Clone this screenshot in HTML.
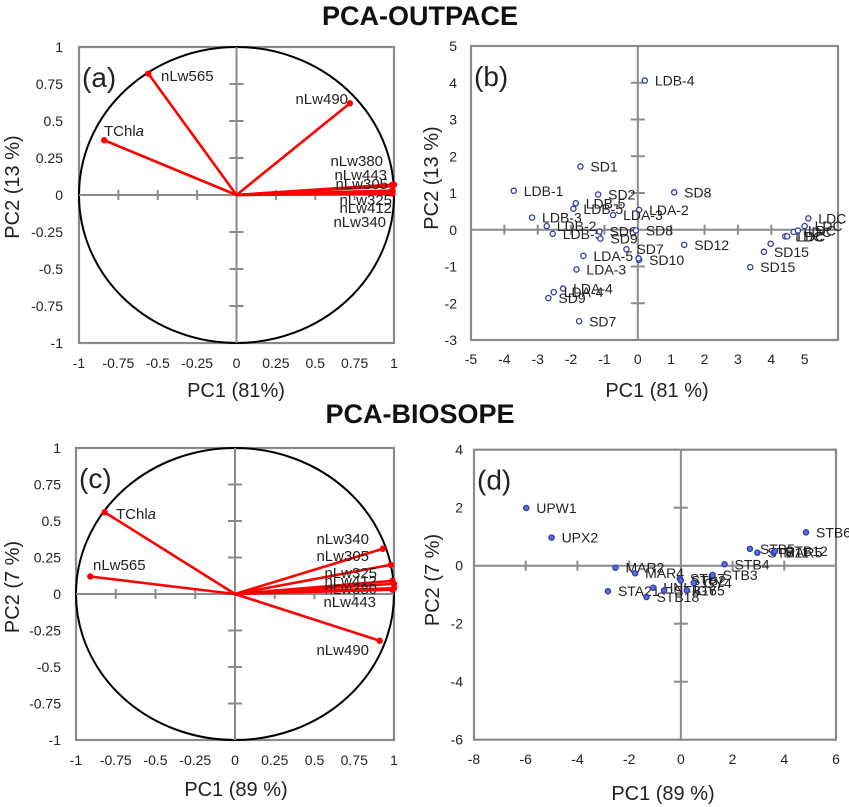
<!DOCTYPE html>
<html><head><meta charset="utf-8"><style>
body{margin:0;background:#fff}
svg{display:block;font-family:"Liberation Sans",sans-serif}
</style></head><body>
<svg id="fig" width="849" height="807" viewBox="0 0 849 807">
<text x="420" y="25" font-size="27" font-weight="bold" text-anchor="middle" fill="#111">PCA-OUTPACE</text>
<text x="420" y="423" font-size="27" font-weight="bold" text-anchor="middle" fill="#111">PCA-BIOSOPE</text>
</svg>
<script>
// Panel (a) loadings
const aVars = ["nLw565","nLw490","TChla","nLw380","nLw443","nLw305","nLw325","nLw412","nLw340"];
const aPC1 = [-0.56,0.72,-0.84,0.99,0.99,1.0,0.99,0.99,0.99];
const aPC2 = [0.82,0.62,0.37,0.07,0.06,0.07,0.03,0.02,0.01];
// Panel (c) loadings
const cVars = ["TChla","nLw565","nLw340","nLw305","nLw325","nLw412","nLw380","nLw443","nLw490"];
const cPC1 = [-0.82,-0.91,0.93,0.98,0.99,1.0,1.0,0.99,0.91];
const cPC2 = [0.56,0.12,0.31,0.2,0.09,0.07,0.04,0.03,-0.32];
const loadTicks = [-1,-0.75,-0.5,-0.25,0,0.25,0.5,0.75,1];
// Panel (b) scores
const bNames = ["LDB-4","SD1","LDB-1","SD2","SD8","LDB-5","LDB-5","LDA-2","LDA-3","LDB-3","LDB-2","LDB-5","SD6","SD8","SD9","SD7","LDA-5","SD10","","SD12","LDA-3","LDA-4","LDA-4","SD9","SD7","SD15","SD15","","LDC","LDC","LDC","LDC","LDC","LDC"];
const bPC1 = [0.21,-1.72,-3.72,-1.19,1.09,-1.86,-1.93,0.04,-0.74,-3.17,-2.73,-2.55,-1.15,-0.06,-1.12,-0.34,-1.63,0.04,0.02,1.39,-1.84,-2.24,-2.52,-2.68,-1.76,3.37,3.78,3.98,4.42,4.48,4.67,4.8,5.0,5.11];
const bPC2 = [4.06,1.72,1.06,0.96,1.02,0.72,0.57,0.54,0.40,0.33,0.10,-0.11,-0.05,-0.02,-0.24,-0.53,-0.71,-0.82,-0.78,-0.41,-1.08,-1.6,-1.70,-1.86,-2.49,-1.02,-0.6,-0.38,-0.18,-0.18,-0.06,-0.02,0.1,0.31];
const bXTicks = [-5,-4,-3,-2,-1,0,1,2,3,4,5];
const bYTicks = [5,4,3,2,1,0,-1,-2,-3];
// Panel (d) scores
const dNames = ["UPW1","UPX2","MAR2","MAR4","STA21","STB18","HNL1","STB16","STB7","STB2","GY5","GY4","STB3","STB4","STB5","STB11","MAR5","STB12","STB6"];
const dPC1 = [-5.98,-5.0,-2.53,-1.77,-2.82,-1.33,-1.07,-0.65,-0.04,0,0.23,0.5,1.23,1.69,2.67,2.96,3.58,3.64,4.84];
const dPC2 = [1.99,0.97,-0.07,-0.26,-0.88,-1.08,-0.76,-0.85,-0.44,-0.51,-0.85,-0.6,-0.32,0.05,0.58,0.45,0.45,0.5,1.15];
const dXTicks = [-8,-6,-4,-2,0,2,4,6];
const dYTicks = [4,2,0,-2,-4,-6];

const NS="http://www.w3.org/2000/svg";
const svg=document.getElementById('fig');
function mk(tag,attrs,parent,txt){const e=document.createElementNS(NS,tag);for(const k in attrs)e.setAttribute(k,attrs[k]);if(txt!==undefined)e.textContent=txt;(parent||svg).appendChild(e);return e;}

function panel(p){
  const g=mk('g',{});
  
  
  const sx=v=>p.x0+(v-p.xmin)/(p.xmax-p.xmin)*(p.x1-p.x0);
  const sy=v=>p.y1-(v-p.ymin)/(p.ymax-p.ymin)*(p.y1-p.y0);
  const box=mk('rect',{x:p.x0,y:p.y0,width:p.x1-p.x0,height:p.y1-p.y0,fill:'none',stroke:'#8a8a8a','stroke-width':2.2},g);
  
  
  if(p.circle){
    const c=mk('ellipse',{cx:sx(0),cy:sy(0),rx:sx(1)-sx(0),ry:sy(0)-sy(1),fill:'none',stroke:'#000','stroke-width':2},g);
    
    
  }
  const ax=mk('line',{x1:p.x0,x2:p.x1,y1:sy(0),y2:sy(0),stroke:'#8a8a8a','stroke-width':2},g);
  
  
  const ay=mk('line',{x1:sx(0),x2:sx(0),y1:p.y0,y2:p.y1,stroke:'#8a8a8a','stroke-width':2},g);
  
  
  p.xt.forEach(v=>{
    if(v>p.xmin&&v<p.xmax&&v!==0){
      const t=mk('line',{x1:sx(v),x2:sx(v),y1:sy(0)-5,y2:sy(0)+5,stroke:'#8a8a8a','stroke-width':2},g);
      
      
    }
    const l=mk('text',{x:sx(v),y:p.xly,'font-size':14,'text-anchor':'middle',fill:'#222'},g,p.fmt(v));
    
    
  });
  p.yt.forEach(v=>{
    if(v>p.ymin&&v<p.ymax&&v!==0){
      const t=mk('line',{x1:sx(0)-7,x2:sx(0)+7,y1:sy(v),y2:sy(v),stroke:'#8a8a8a','stroke-width':2},g);
      
      
    }
    const l=mk('text',{x:p.ylx,y:sy(v)+5,'font-size':14,'text-anchor':'end',fill:'#222'},g,String(v));
    
    
  });
  const xt=mk('text',{x:p.xtx,y:p.xty,'font-size':20,'text-anchor':'middle',fill:'#222'},g,p.xtitle);
  
  
  const yt=mk('text',{x:0,y:0,'font-size':20,'text-anchor':'middle',fill:'#222',transform:`translate(${p.ytx},${p.yty}) rotate(-90)`},g,p.ytitle);
  
  
  const pl=mk('text',{x:p.x0+3,y:p.y0+40,'font-size':28,fill:'#222'},g,p.letter);
  
  
  return {g,sx,sy};
}
const fmtL=v=>String(v).replace('0.','0.').replace('-0.','-0.');

function loadings(p,vars,xs,ys,labels){
  const {g,sx,sy}=panel(p);
  vars.forEach((n,i)=>{
    const ln=mk('line',{x1:sx(0),y1:sy(0),x2:sx(xs[i]),y2:sy(ys[i]),stroke:'#ff0000','stroke-width':2.6},g);
    
    
    const d=mk('circle',{cx:sx(xs[i]),cy:sy(ys[i]),r:3.2,fill:'#ff0000'},g);
    
    
    const L=labels[i];
    const t=mk('text',{x:L[0],y:L[1],'font-size':15,'text-anchor':L[2],fill:'#222'},g);
    
    
    if(n==='TChla'){t.textContent='TChl';const s=mk('tspan',{'font-style':'italic'},t,'a');}
    else t.textContent=n;
  });
}
loadings({name:'panel-a',x0:79,x1:394,y0:47,y1:343,xmin:-1,xmax:1,ymin:-1,ymax:1,xt:loadTicks,yt:loadTicks,fmt:String,xly:368,ylx:63,xtitle:'PC1 (81%)',xtx:236,xty:397,ytitle:'PC2 (13 %)',ytx:19,yty:187,letter:'(a)',circle:true},
  aVars,aPC1,aPC2,
  [[161,81,'start'],[348,104,'end'],[104,136,'start'],[383,166,'end'],[387,180,'end'],[388,189,'end'],[392,205,'end'],[392,213,'end'],[386,227,'end']]);
loadings({name:'panel-c',x0:76,x1:394,y0:448,y1:740,xmin:-1,xmax:1,ymin:-1,ymax:1,xt:loadTicks,yt:loadTicks,fmt:String,xly:765,ylx:61,xtitle:'PC1 (89 %)',xtx:236,xty:796,ytitle:'PC2 (7 %)',ytx:19,yty:587,letter:'(c)',circle:true},
  cVars,cPC1,cPC2,
  [[116,519,'start'],[93,570,'start'],[369,544,'end'],[369,561,'end'],[377,578,'end'],[377,586,'end'],[377,594,'end'],[376,607,'end'],[369,655,'end']]);

function scores(p,names,xs,ys,fill){
  const {g,sx,sy}=panel(p);
  names.forEach((n,i)=>{
    const d=mk('circle',{cx:sx(xs[i]),cy:sy(ys[i]),r:2.6,fill:fill,stroke:'#2b3aa8','stroke-width':1.3},g);
    
    
    if(n){
      const t=mk('text',{x:sx(xs[i])+10,y:sy(ys[i])+5,'font-size':14,fill:'#222'},g,n);
      
      
    }
  });
}
scores({name:'panel-b',x0:471,x1:838,y0:46,y1:340,xmin:-5,xmax:6,ymin:-3,ymax:5,xt:bXTicks,yt:bYTicks,fmt:String,xly:364,ylx:457,xtitle:'PC1 (81 %)',xtx:657,xty:397,ytitle:'PC2 (13 %)',ytx:438,yty:178,letter:'(b)'},
  bNames,bPC1,bPC2,'#ffffff');
scores({name:'panel-d',x0:474,x1:836,y0:449.7,y1:739.7,xmin:-8,xmax:6,ymin:-6,ymax:4,xt:dXTicks,yt:dYTicks,fmt:String,xly:764,ylx:463,xtitle:'PC1 (89 %)',xtx:663,xty:800,ytitle:'PC2 (7 %)',ytx:439,yty:580,letter:'(d)'},
  dNames,dPC1,dPC2,'#5a6ee0');
</script>
</body></html>
